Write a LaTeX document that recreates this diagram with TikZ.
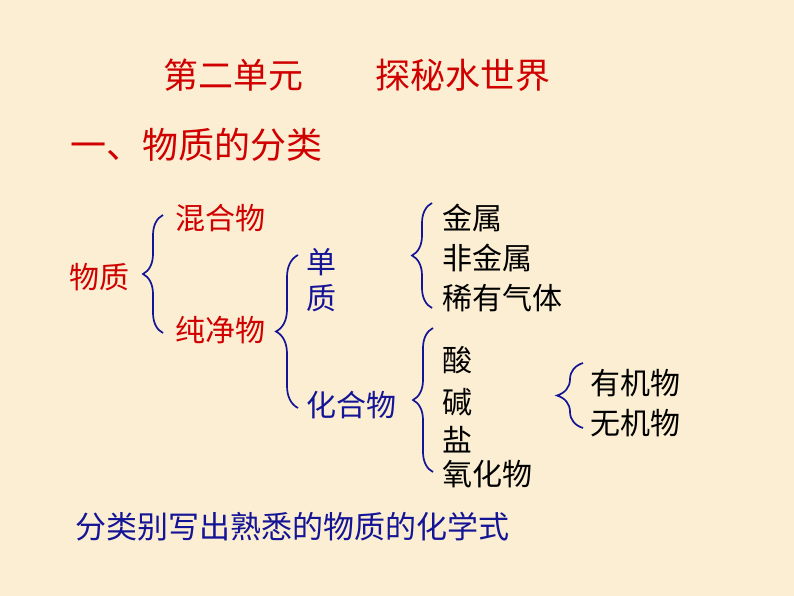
\documentclass[tikz,border=0pt]{standalone}
\usepackage{fontspec}
\newfontfamily\cjk{Noto Sans CJK SC}
\usetikzlibrary{decorations.pathreplacing}
\definecolor{paper}{RGB}{251,238,210}
\definecolor{redtxt}{RGB}{208,0,0}
\definecolor{bluetxt}{RGB}{20,20,150}
\tikzset{
  txt/.style={anchor=west, inner sep=0pt, font=\cjk\fontsize{30}{30}\selectfont},
  red/.style={txt, text=redtxt},
  blue/.style={txt, text=bluetxt},
  blk/.style={txt, text=black},
  head/.style={red, font=\cjk\fontsize{#1}{#1}\selectfont},
  cbrace/.style={draw=bluetxt, line width=1.7pt, decorate, decoration={brace, amplitude=#1}},
  cbrace/.default=20pt
}

\begin{document}
\begin{tikzpicture}[x=1pt, y=-1pt]
		%%%%% START %%%%%
		
		\fill[paper] (0, 0) rectangle (794, 596);
		\useasboundingbox (0, 0) rectangle (794, 596);
		
		\node[head=35] (unit) at (163, 75) {第二单元};
		\node[head=35] (theme) at (375, 75) {探秘水世界};
		\node[head=36] (sect) at (70, 145) {一、物质的分类};
		
		\node[red] (matter) at (69, 277) {物质};
		\node[red] (mix) at (175, 218) {混合物};
		\node[red] (pure) at (175, 330) {纯净物};
		\draw[cbrace] (163, 333) -- (163, 215);
		
		\node[blue] (dan) at (306, 262) {单};
		\node[blue] (zhi) at (306, 298) {质};
		\node[blue] (comp) at (306, 405) {化合物};
		\draw[cbrace=22pt] (298, 408) -- (298, 255);
		
		\node[blk] (metal) at (442, 218) {金属};
		\node[blk] (nonmetal) at (442, 258) {非金属};
		\node[blk] (noble) at (442, 298) {稀有气体};
		\draw[cbrace] (432, 308) -- (432, 203);
		
		\node[blk] (acid) at (442, 360) {酸};
		\node[blk] (base) at (442, 402) {碱};
		\node[blk] (salt) at (442, 440) {盐};
		\node[blk] (oxide) at (442, 474) {氧化物};
		\draw[cbrace] (433, 472) -- (433, 328);
		
		\node[blk] (org) at (590, 383) {有机物};
		\node[blk] (inorg) at (590, 423) {无机物};
		\draw[cbrace=26pt] (583, 428) -- (583, 363);
		
		\node[blue, font=\cjk\fontsize{31}{31}\selectfont] (task) at (75, 527) {分类别写出熟悉的物质的化学式};
		
		%%%%% END %%%%%
\end{tikzpicture}
\end{document}
